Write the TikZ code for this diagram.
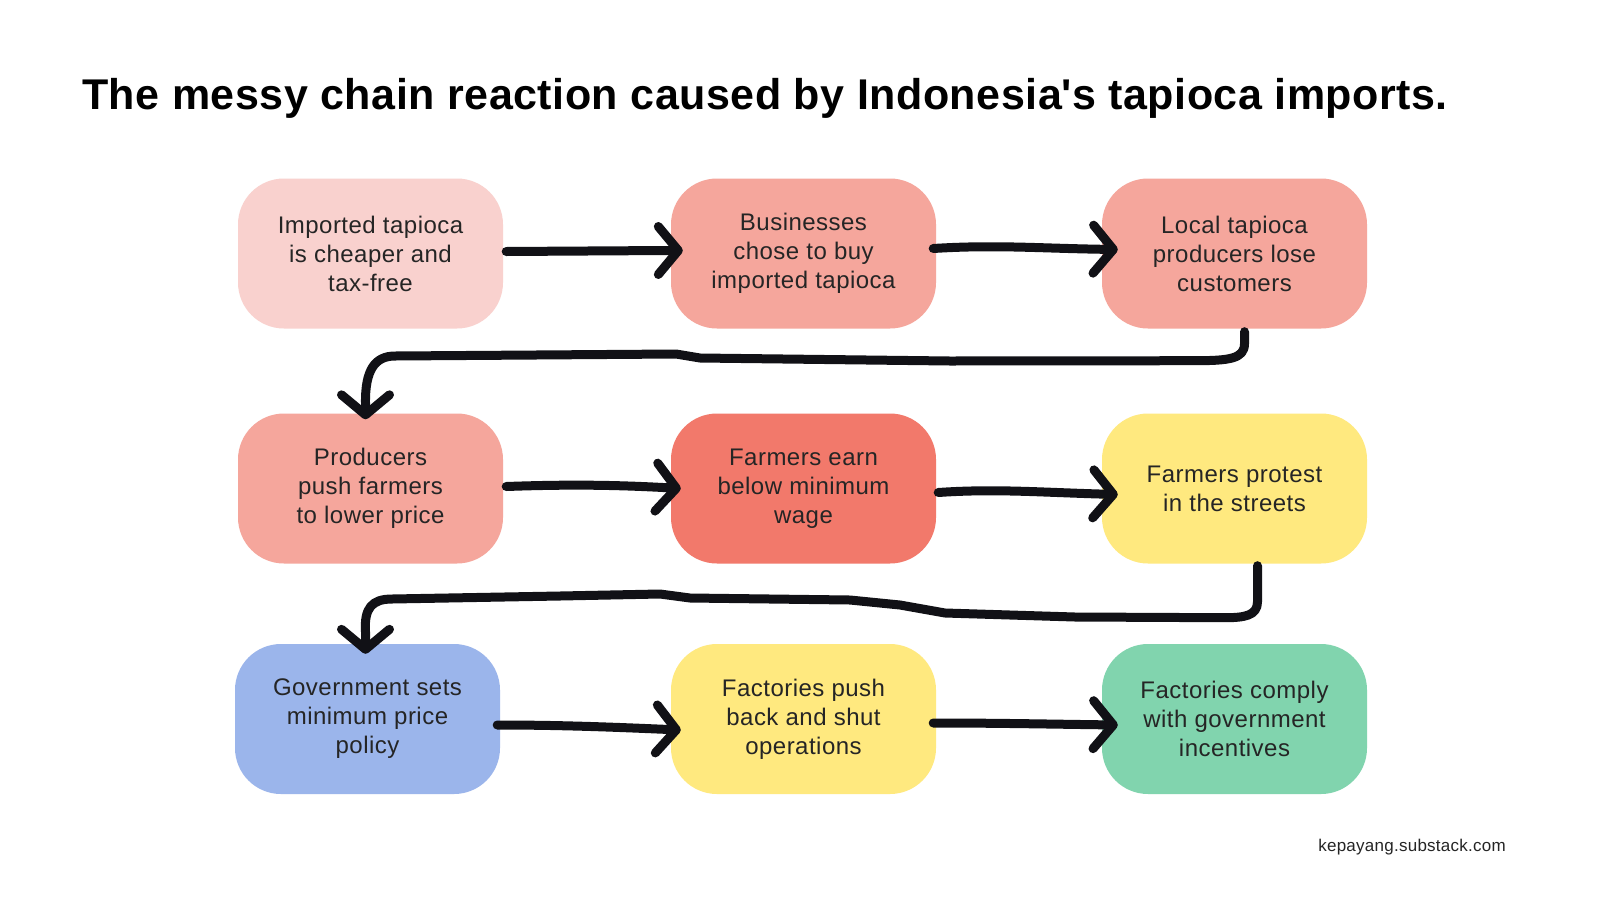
\documentclass[tikz,border=0pt]{standalone}
\usepackage{fontspec}
\setmainfont{Liberation Sans}
\newfontfamily\titlefont{Liberation Sans}[LetterSpace=1.2]
\newfontfamily\boxfont{Liberation Sans}[LetterSpace=2]
\newfontfamily\creditfont{Liberation Sans}[LetterSpace=1.5]
\usetikzlibrary{arrows.meta,calc}
\definecolor{cpink}{HTML}{F9D1CE}
\definecolor{csalmon}{HTML}{F5A69C}
\definecolor{cred}{HTML}{F2796B}
\definecolor{cyellow}{HTML}{FFE97F}
\definecolor{cblue}{HTML}{9BB5EB}
\definecolor{cgreen}{HTML}{81D4AE}
\definecolor{cink}{HTML}{111116}
\definecolor{ctext}{HTML}{252525}
\tikzset{
  flowbox/.style={rectangle, rounded corners=46pt, minimum width=265pt, minimum height=150pt,
    align=center, inner sep=0pt, text=ctext, font=\boxfont\fontsize{24}{29}\selectfont},
  inkarrow/.style={draw=cink, line width=9pt, line cap=round, line join=round,
    -{Straight Barb[length=20pt, width=48pt, round]}},
}
\begin{document}
\begin{tikzpicture}[x=1pt, y=-1pt]
\useasboundingbox[fill=white] (0,0) rectangle (1600,900);
\node[anchor=base west, font=\titlefont\fontsize{43}{50}\selectfont\bfseries, text=black, inner sep=0pt] (title) at (82,109)
  {The messy chain reaction caused by Indonesia\textquotesingle s tapioca imports.};
% row 1
\node[flowbox, fill=cpink] (n1) at (370.5,253.5) {Imported tapioca\\is cheaper and\\tax-free};
\node[flowbox, fill=csalmon] (n2) at (803.5,253.5) {Businesses\\chose to buy\\imported tapioca};
\node[flowbox, fill=csalmon] (n3) at (1234.5,253.5) {Local tapioca\\producers lose\\customers};
% row 2
\node[flowbox, fill=csalmon] (n4) at (370.5,488.5) {Producers\\push farmers\\to lower price};
\node[flowbox, fill=cred] (n5) at (803.5,488.5) {Farmers earn\\below minimum\\wage};
\node[flowbox, fill=cyellow] (n6) at (1234.5,488.5) {Farmers protest\\in the streets};
% row 3
\node[flowbox, fill=cblue] (n7) at (367.5,719) {Government sets\\minimum price\\policy};
\node[flowbox, fill=cyellow] (n8) at (803.5,719) {Factories push\\back and shut\\operations};
\node[flowbox, fill=cgreen] (n9) at (1234.5,719) {Factories comply\\with government\\incentives};
\node[anchor=base east, font=\creditfont\fontsize{17}{20}\selectfont, text=ctext, inner sep=0pt] (credit) at (1506,851) {kepayang.substack.com};
% arrows
\draw[inkarrow] ($(n1.east)+(3,-2)$) -- ($(n2.west)+(-3,-3)$) -- ($(n2.west)+(12,-3)$);
\draw[inkarrow] ($(n2.east)+(-3,-5)$) .. controls ($(n2.east)+(60,-9)$) and ($(n3.west)+(-60,-5)$) .. ($(n3.west)+(16,-4)$);
\draw[inkarrow] ($(n3.south)+(10,3)$) -- ($(n3.south)+(10,15)$)
  .. controls ($(n3.south)+(10,30)$) and ($(n3.south)+(-5,32)$) .. ($(n3.south)+(-40,32)$)
  -- (950,361) -- (700,358) -- (676,354) -- (395,356)
  .. controls (375,356) and (365,370) .. ($(n4.north)+(-5,-10)$) -- ($(n4.north)+(-5,6)$);
\draw[inkarrow] ($(n4.east)+(3,-2)$) .. controls ($(n4.east)+(60,-4)$) and ($(n5.west)+(-60,-4)$) .. ($(n5.west)+(10,0)$);
\draw[inkarrow] ($(n5.east)+(2,4)$) .. controls ($(n5.east)+(60,0)$) and ($(n6.west)+(-60,4)$) .. ($(n6.west)+(16,6)$);
\draw[inkarrow] ($(n6.south)+(23,2)$) -- ($(n6.south)+(23,38)$)
  .. controls ($(n6.south)+(23,52)$) and ($(n6.south)+(10,54)$) .. ($(n6.south)+(-10,54)$)
  -- (1075,617) -- (945,613) -- (900,605) -- (850,600) -- (690,598) -- (660,594) -- (560,596) -- (392,599)
  .. controls (372,599) and (364,608) .. ($(n7.north)+(-2,-12)$) -- ($(n7.north)+(-2,10)$);
\draw[inkarrow] ($(n7.east)+(-3,6)$) .. controls ($(n7.east)+(60,6)$) and ($(n8.west)+(-60,8)$) .. ($(n8.west)+(10,11)$);
\draw[inkarrow] ($(n8.east)+(-3,4)$) .. controls ($(n8.east)+(60,4)$) and ($(n9.west)+(-60,5)$) .. ($(n9.west)+(16,6)$);
\end{tikzpicture}
\end{document}
